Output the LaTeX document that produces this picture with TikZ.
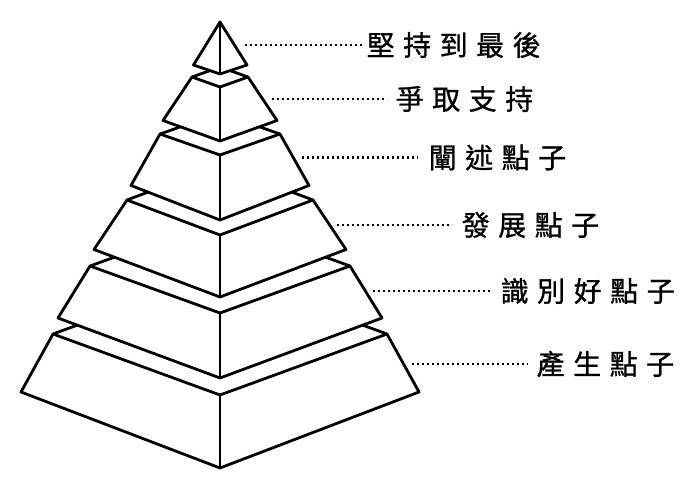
\documentclass[tikz,border=0pt]{standalone}
\usepackage{fontspec}
\newfontfamily\cjk[FakeBold=1]{Noto Sans CJK TC}
\newcommand\gp{\hspace{8.5pt}}
\newcommand\pyrtier[6]{%
  \pgfmathsetmacro\bk{#2-(#3-#2)}%
  \filldraw[edge,fill=white] (220-#1,#2) -- (220,\bk) -- (220+#1,#2) -- (220+#4,#5) -- (220,#6) -- (220-#4,#5) -- cycle;
  \draw[edge] (220-#1,#2) -- (220,#3) -- (220+#1,#2);
  \draw[edge] (220,#3) -- (220,#6);
}
\begin{document}
\begin{tikzpicture}[x=1pt,y=-1pt,
  edge/.style={line width=2.8pt, line join=round, black},
  leader/.style={line width=2.4pt, dash pattern=on 2.4pt off 2.6pt, black},
  lab/.style={anchor=west, inner sep=0pt, font=\cjk\fontsize{28}{30}\selectfont}]
\fill[white] (0,0) rectangle (693,489);
\useasboundingbox (0,0) rectangle (693,489);
% tiers, bottom first
\pyrtier{167}{334}{395}{199}{392}{468}
\pyrtier{130}{266}{313}{162}{318}{378}
\pyrtier{93}{200}{235}{126}{249.5}{297}
\pyrtier{60}{134}{155}{89}{185.5}{220}
\pyrtier{28}{77}{87}{57}{120.5}{141}
\filldraw[edge,fill=white] (220,22) -- (247,65) -- (220,74) -- (193.5,65) -- cycle;
\draw[edge] (220,22) -- (220,74);
% labels
\node[lab] (l1) at (366.5,45) {堅\gp 持\gp 到\gp 最\gp 後};
\node[lab] (l2) at (395.5,99) {爭\gp 取\gp 支\gp 持};
\node[lab] (l3) at (428.5,157.5) {闡\gp 述\gp 點\gp 子};
\node[lab] (l4) at (461.5,225) {發\gp 展\gp 點\gp 子};
\node[lab] (l5) at (500.5,291) {識\gp 別\gp 好\gp 點\gp 子};
\node[lab] (l6) at (536.5,364) {產\gp 生\gp 點\gp 子};
\coordinate (d1) at (245,45);
\coordinate (d2) at (272,99);
\coordinate (d3) at (302,157.5);
\coordinate (d4) at (337,225);
\coordinate (d5) at (373,291);
\coordinate (d6) at (412,364);
\draw[leader] (d1) -- ([xshift=-5pt]l1.west);
\draw[leader] (d2) -- ([xshift=-8.5pt]l2.west);
\draw[leader] (d3) -- ([xshift=-10.5pt]l3.west);
\draw[leader] (d4) -- ([xshift=-9.5pt]l4.west);
\draw[leader] (d5) -- ([xshift=-10.5pt]l5.west);
\draw[leader] (d6) -- ([xshift=-8.5pt]l6.west);
\end{tikzpicture}
\end{document}
